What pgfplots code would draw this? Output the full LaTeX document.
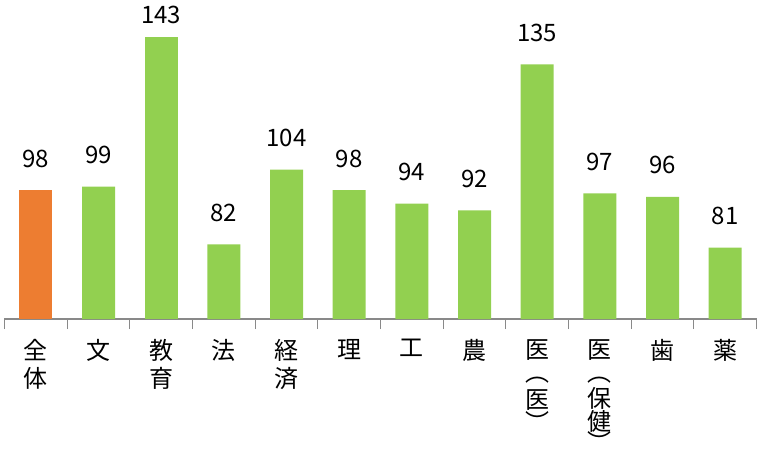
\documentclass[border=0pt]{standalone}
\usepackage{fontspec}
\setmainfont{Noto Sans CJK JP}
\usepackage{pgfplots}
\pgfplotsset{compat=1.18}
\definecolor{barorange}{RGB}{237,125,49}
\definecolor{bargreen}{RGB}{146,208,80}
\definecolor{axisgray}{RGB}{137,137,137}
\begin{document}
\begin{tikzpicture}
\path[use as bounding box] (-4.5pt,-129pt) rectangle (755.5pt,319pt);
\begin{axis}[
  scale only axis,
  width=752pt,
  height=319pt,
  at={(0pt,0pt)},
  anchor=south west,
  xmin=-0.5, xmax=11.5,
  ymin=60, ymax=154,
  axis x line=bottom,
  axis y line=none,
  axis line style={axisgray, line width=1.3pt, -},
  xtick={0,...,11},
  xticklabels={{全\\体},{文},{教\\育},{法},{経\\済},{理},{工},{農},
    {医\\[-5pt]︵\\[-1pt]医\\[-5pt]︶},
    {医\\[-5pt]︵\\[-2pt]保\\[-5pt]健\\[-7pt]︶},{歯},{薬}},
  major tick length=0pt,
  minor xtick={-0.5,0.5,...,11.5},
  minor tick length=10pt,
  tick align=outside,
  minor tick style={axisgray, line width=1.3pt},
  xticklabel style={font=\fontsize{24}{28}\selectfont, align=center, anchor=north, yshift=-17pt},
  ytick=\empty,
  clip=false,
  nodes near coords,
  every node near coord/.append style={font=\fontsize{24}{28}\selectfont, anchor=base, inner sep=0pt, yshift=23pt, black, /pgf/number format/assume math mode=true},
  ybar,
  bar width=33pt,
]
\addplot[fill=barorange, draw=none, bar shift=0pt] coordinates {(0,98)};
\addplot[fill=bargreen, draw=none, bar shift=0pt] coordinates {
(1,99) (3,82) (4,104) (5,98) (6,94) (7,92) (8,135) (9,97) (10,96) (11,81)
};
\addplot[fill=bargreen, draw=none, bar shift=0pt,
  every node near coord/.append style={yshift=-9pt}] coordinates {(2,143)};
\end{axis}
\end{tikzpicture}
\end{document}
